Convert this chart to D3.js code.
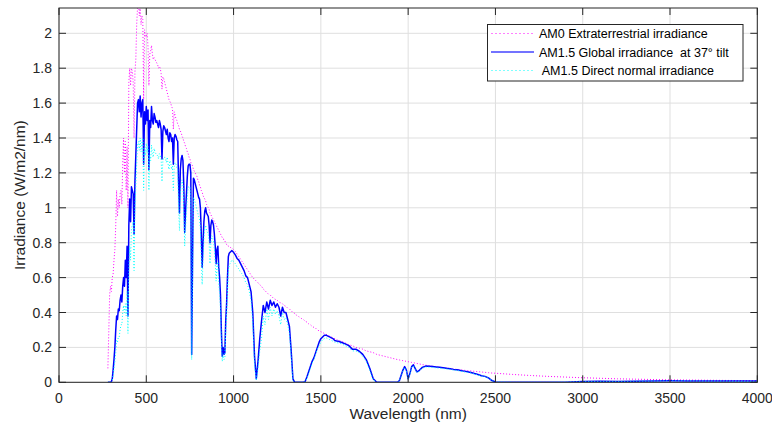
<!DOCTYPE html>
<html><head><meta charset="utf-8">
<script src="https://cdn.jsdelivr.net/npm/d3@7"></script>
<style>html,body{margin:0;padding:0;background:#fff;} svg{display:block;}</style>
</head><body><svg id="chart" width="772" height="430"></svg>
<script>
// ---- Wavelength grid (nm), in sections ----
const wlA = [280,285,290,295,300,305,310,315,320,325,
330,335,340,345,350,355,360,365,370,375,
380,385,390,395,400,405,410,415,420,425,
430,435,440,445,450,455,460,465,470,475,
480,485,490,495,500,505,510,515,520,525,
530,535,540,545,550,555,560,565,570,575,
580,585,590,595,600,605,610,615,620,625,
630,635,640,645,650,655,660,665,670,675,
680,685,690,695,700,705,710,715,720,725,
730,735,740,745,750,755,760,765,770,775,
780,785,790,795,800,805,810,815,820,825,
830,835,840,845,850,855,860,865,870,875,
880,885,890,895,900,905,910,915,920,925,
930,935,940,945,950,955,960,965,970,975,
980,985,990,995,1000];
const wlB = [1010,1020,1030,1040,1050,1060,1070,1080,1090,1100,
1110,1120,1130,1140,1150,1160,1170,1180,1190,1200,
1210,1220,1230,1240,1250,1260,1270,1280,1290,1300,
1310,1320,1330,1340,1350,1360,1370,1380,1390,1400,
1410,1420,1430,1440,1450,1460,1470,1480,1490,1500,
1510,1520,1530,1540,1550,1560,1570,1580,1590,1600];
const wlC = [1620,1640,1660,1680,1700,1720,1740,1760,1780,1800,1820,1840,1860,1880,1900,1920,1940];
const wlD = [1950,1960,1970,1980,1990,2000,2010,2020,2030,2040,2050,2060];
const wlE = [2080,2100,2120,2140,2160,2180,2200,2220,2240,2260,2280,2300,2320,2340,2360,2380,2400,2420,2440,2460,2480,2500];
const wlF = [2600,2700,2800,2900,3000,3100,3200,3300,3400,3500,3600,3700,3800,3900,4000];

// ---- AM0 extraterrestrial irradiance (W/m2/nm) ----
const am0A = [0.08,0.28,0.50,0.55,0.52,0.60,0.62,0.70,0.76,0.90,
1.10,0.95,1.05,1.00,1.08,1.10,1.02,1.25,1.40,1.20,
1.38,1.10,1.35,1.00,1.72,1.80,1.70,1.80,1.78,1.72,
1.40,1.78,1.85,2.05,2.15,2.20,2.10,2.15,2.05,2.10,
2.08,1.62,2.02,1.98,1.98,2.00,1.92,1.70,1.88,1.90,
1.93,1.88,1.85,1.86,1.85,1.84,1.83,1.82,1.80,1.81,
1.80,1.77,1.68,1.75,1.74,1.72,1.70,1.68,1.66,1.64,
1.62,1.61,1.60,1.58,1.57,1.45,1.55,1.53,1.51,1.50,
1.48,1.47,1.45,1.44,1.43,1.41,1.40,1.38,1.37,1.35,
1.34,1.32,1.31,1.29,1.28,1.26,1.25,1.24,1.22,1.21,
1.20,1.19,1.18,1.16,1.15,1.13,1.12,1.10,1.09,1.07,
1.06,1.05,1.04,1.02,1.01,1.00,0.99,0.97,0.96,0.95,
0.94,0.93,0.92,0.91,0.90,0.89,0.88,0.87,0.86,0.85,
0.84,0.83,0.82,0.82,0.81,0.80,0.79,0.79,0.78,0.78,
0.775,0.77,0.77,0.765,0.76];
const am0B = [0.75,0.735,0.72,0.705,0.69,0.675,0.66,0.645,0.63,0.615,
0.60,0.59,0.58,0.57,0.56,0.55,0.535,0.525,0.515,0.505,
0.50,0.49,0.48,0.475,0.47,0.46,0.455,0.45,0.44,0.435,
0.425,0.42,0.41,0.40,0.395,0.385,0.38,0.37,0.365,0.36,
0.35,0.345,0.335,0.33,0.32,0.315,0.31,0.30,0.295,0.29,
0.285,0.28,0.275,0.27,0.265,0.26,0.255,0.25,0.245,0.24];
const am0C = [0.235,0.225,0.215,0.21,0.20,0.195,0.19,0.18,0.175,0.17,0.16,0.155,0.15,0.145,0.14,0.135,0.13];
const am0D = [0.128,0.126,0.124,0.122,0.12,0.118,0.116,0.114,0.112,0.11,0.108,0.106];
const am0E = [0.102,0.098,0.095,0.092,0.089,0.086,0.083,0.081,0.078,0.076,0.074,0.072,0.069,0.067,0.065,0.063,0.061,0.059,0.057,0.055,0.053,0.052];
const am0F = [0.045,0.039,0.034,0.030,0.026,0.023,0.020,0.018,0.016,0.014,0.013,0.012,0.011,0.010,0.009];

// ---- AM1.5 global irradiance at 37° tilt ----
const globalA = [0,0,0,0,0.003,0.02,0.07,0.13,0.20,0.30,
0.38,0.36,0.42,0.41,0.47,0.50,0.46,0.55,0.60,0.55,
0.70,0.60,0.78,0.38,0.90,1.05,0.92,1.12,1.10,1.08,
0.85,1.15,1.30,1.45,1.60,1.62,1.55,1.64,1.52,1.60,
1.62,1.25,1.55,1.48,1.58,1.50,1.56,1.22,1.50,1.46,
1.58,1.50,1.48,1.54,1.52,1.49,1.50,1.48,1.46,1.50,
1.48,1.45,1.28,1.44,1.47,1.46,1.44,1.42,1.45,1.40,
1.38,1.43,1.42,1.38,1.40,1.25,1.40,1.42,1.41,1.39,
1.38,1.15,0.97,1.22,1.28,1.30,1.27,1.12,0.86,0.98,
1.08,1.18,1.24,1.25,1.25,1.20,0.16,0.70,1.17,1.16,
1.14,1.12,1.10,1.08,1.06,1.05,1.00,0.85,0.66,0.80,
0.92,0.98,1.00,0.97,0.96,0.95,0.90,0.80,0.90,0.93,
0.92,0.90,0.85,0.78,0.68,0.76,0.78,0.66,0.60,0.50,
0.30,0.15,0.20,0.16,0.17,0.35,0.45,0.60,0.72,0.74,
0.745,0.75,0.755,0.75,0.745];
const globalB = [0.73,0.71,0.70,0.68,0.66,0.64,0.61,0.60,0.56,0.52,
0.40,0.15,0.02,0.12,0.25,0.35,0.44,0.40,0.46,0.42,
0.47,0.44,0.46,0.43,0.45,0.43,0.38,0.43,0.40,0.40,
0.36,0.32,0.18,0.02,0,0,0,0,0,0,
0.005,0.03,0.06,0.09,0.12,0.14,0.17,0.20,0.23,0.25,
0.26,0.27,0.27,0.265,0.26,0.255,0.25,0.24,0.237,0.235];
const globalC = [0.228,0.22,0.21,0.19,0.19,0.178,0.16,0.13,0.08,0.02,0,0,0,0,0,0,0];
const globalD = [0.01,0.04,0.07,0.09,0.07,0.02,0.05,0.09,0.10,0.08,0.06,0.065];
const globalE = [0.085,0.093,0.092,0.09,0.088,0.086,0.084,0.08,0.078,0.074,0.072,0.068,0.064,0.06,0.056,0.05,0.045,0.038,0.034,0.025,0.01,0.002];
const globalF = [0,0,0,0.001,0.004,0.006,0.004,0.006,0.008,0.009,0.008,0.008,0.007,0.007,0.007];

// ---- AM1.5 direct normal irradiance ----
const directA = [0,0,0,0,0,0.01,0.04,0.08,0.12,0.17,
0.24,0.23,0.26,0.26,0.30,0.33,0.33,0.40,0.44,0.40,
0.45,0.38,0.52,0.28,0.65,0.78,0.70,0.88,0.90,0.92,
0.64,1.00,1.12,1.25,1.36,1.38,1.33,1.40,1.32,1.38,
1.40,1.10,1.34,1.30,1.37,1.32,1.35,1.10,1.30,1.27,
1.36,1.30,1.29,1.34,1.32,1.31,1.30,1.30,1.28,1.31,
1.30,1.28,1.15,1.27,1.29,1.29,1.28,1.26,1.29,1.25,
1.22,1.27,1.26,1.22,1.24,1.10,1.24,1.26,1.25,1.23,
1.22,1.00,0.87,1.08,1.14,1.16,1.13,0.98,0.78,0.88,
0.97,1.06,1.12,1.12,1.12,1.06,0.13,0.55,1.06,1.05,
1.03,1.01,0.99,0.97,0.95,0.94,0.88,0.72,0.56,0.70,
0.82,0.88,0.90,0.87,0.86,0.85,0.80,0.68,0.80,0.84,
0.83,0.81,0.76,0.68,0.58,0.67,0.69,0.57,0.51,0.42,
0.24,0.12,0.16,0.13,0.14,0.29,0.38,0.52,0.64,0.67,
0.68,0.69,0.70,0.70,0.69];
const directB = [0.68,0.66,0.65,0.63,0.62,0.60,0.57,0.56,0.52,0.47,
0.34,0.10,0.01,0.08,0.18,0.25,0.38,0.33,0.42,0.36,
0.43,0.38,0.42,0.39,0.41,0.38,0.33,0.40,0.36,0.37,
0.33,0.28,0.15,0.01,0,0,0,0,0,0,
0.003,0.02,0.05,0.08,0.11,0.13,0.16,0.19,0.21,0.23,
0.245,0.25,0.255,0.25,0.245,0.24,0.235,0.23,0.228,0.225];
const directC = [0.22,0.21,0.20,0.18,0.18,0.17,0.15,0.12,0.07,0.015,0,0,0,0,0,0,0];
const directD = [0.008,0.035,0.065,0.085,0.065,0.015,0.045,0.085,0.095,0.075,0.055,0.06];
const directE = [0.08,0.088,0.087,0.085,0.083,0.081,0.079,0.076,0.074,0.07,0.068,0.064,0.06,0.057,0.053,0.047,0.042,0.036,0.032,0.023,0.009,0.002];
const directF = [0,0,0,0.001,0.004,0.005,0.004,0.006,0.007,0.008,0.008,0.007,0.007,0.006,0.006];

// ---- Axis ticks & labels ----
const xTicks = [0,500,1000,1500,2000,2500,3000,3500,4000];
const yTicks = [0,0.2,0.4,0.6,0.8,1,1.2,1.4,1.6,1.8,2];
const xLabel = "Wavelength (nm)";
const yLabel = "Irradiance (W/m2/nm)";
const seriesNames = ["AM0 Extraterrestrial irradiance", "AM1.5 Global irradiance  at 37° tilt", " AM1.5 Direct normal irradiance"];

const wavelengths = [].concat(wlA, wlB, wlC, wlD, wlE, wlF);
const am0 = [].concat(am0A, am0B, am0C, am0D, am0E, am0F);
const glob = [].concat(globalA, globalB, globalC, globalD, globalE, globalF);
const direct = [].concat(directA, directB, directC, directD, directE, directF);

function zip(vals) {
  const n = Math.min(wavelengths.length, vals.length);
  return d3.range(n).map(i => [wavelengths[i], vals[i]]);
}

const svg = d3.select("#chart");
svg.append("rect").attr("width", 772).attr("height", 430).attr("fill", "#fff");

const L = 59, R = 757.3, T = 8, B = 382.3;
const x = d3.scaleLinear().domain([0, 4000]).range([L, R]);
const y = d3.scaleLinear().domain([0, 2.145]).range([B, T]);

const axColor = "#262626";
const font = "'Liberation Sans', Arial, Helvetica, sans-serif";

// grid
const grid = svg.append("g");
grid.selectAll("line.gx").data(xTicks).join("line")
  .attr("x1", d => x(d)).attr("x2", d => x(d)).attr("y1", T).attr("y2", B)
  .attr("stroke", "#dfdfdf").attr("stroke-width", 1);
grid.selectAll("line.gy").data(yTicks).join("line")
  .attr("y1", d => y(d)).attr("y2", d => y(d)).attr("x1", L).attr("x2", R)
  .attr("stroke", "#dfdfdf").attr("stroke-width", 1);

// clip
svg.append("clipPath").attr("id", "clip").append("rect")
  .attr("x", L).attr("y", T).attr("width", R - L).attr("height", B - T);

const line = d3.line().x(d => x(d[0])).y(d => y(d[1]));
const plot = svg.append("g").attr("clip-path", "url(#clip)");
plot.append("path").datum(zip(am0)).attr("d", line)
  .attr("fill", "none").attr("stroke", "#ff00ff").attr("stroke-width", 1)
  .attr("stroke-dasharray", "1,2");
plot.append("path").datum(zip(glob)).attr("d", line)
  .attr("fill", "none").attr("stroke", "#0000ff").attr("stroke-width", 1.5)
  .attr("stroke-linejoin", "round");
plot.append("path").datum(zip(direct)).attr("d", line)
  .attr("fill", "none").attr("stroke", "#00ffff").attr("stroke-width", 1)
  .attr("stroke-dasharray", "1,2");

// axes box
const ax = svg.append("g");
ax.append("rect").attr("x", L).attr("y", T).attr("width", R - L).attr("height", B - T)
  .attr("fill", "none").attr("stroke", axColor).attr("stroke-width", 1);
const tl = 7;
xTicks.forEach(t => {
  ax.append("line").attr("x1", x(t)).attr("x2", x(t)).attr("y1", B).attr("y2", B - tl).attr("stroke", axColor);
  ax.append("line").attr("x1", x(t)).attr("x2", x(t)).attr("y1", T).attr("y2", T + tl).attr("stroke", axColor);
});
yTicks.forEach(t => {
  ax.append("line").attr("y1", y(t)).attr("y2", y(t)).attr("x1", L).attr("x2", L + tl).attr("stroke", axColor);
  ax.append("line").attr("y1", y(t)).attr("y2", y(t)).attr("x1", R).attr("x2", R - tl).attr("stroke", axColor);
});

// tick labels
ax.selectAll("text.xt").data(xTicks).join("text")
  .attr("x", d => x(d)).attr("y", 403).attr("text-anchor", "middle")
  .attr("font-family", font).attr("font-size", 14).attr("fill", axColor)
  .text(d => d);
ax.selectAll("text.yt").data(yTicks).join("text")
  .attr("x", 52).attr("y", d => y(d)).attr("dy", "0.36em").attr("text-anchor", "end")
  .attr("font-family", font).attr("font-size", 14).attr("fill", axColor)
  .text(d => d);

// axis labels
svg.append("text").attr("x", (L + R) / 2).attr("y", 419).attr("text-anchor", "middle")
  .attr("font-family", font).attr("font-size", 15.5).attr("fill", axColor).text(xLabel);
svg.append("text").attr("transform", `translate(25,${(T + B) / 2}) rotate(-90)`)
  .attr("text-anchor", "middle")
  .attr("font-family", font).attr("font-size", 15.5).attr("fill", axColor).text(yLabel);

// legend
const lg = svg.append("g");
lg.append("rect").attr("x", 487.5).attr("y", 24.5).attr("width", 255.5).attr("height", 56.5)
  .attr("fill", "#fff").attr("stroke", axColor).attr("stroke-width", 1);
const legendStyles = [
  {color: "#ff00ff", dash: "2,2", width: 1, op: 0.5},
  {color: "#0000ff", dash: null, width: 2, op: 0.55},
  {color: "#00ffff", dash: "2,2", width: 1, op: 0.5}
];
const legendY = [33.5, 52, 70.5];
seriesNames.forEach((name, i) => {
  const s = legendStyles[i];
  const l = lg.append("line").attr("x1", 491).attr("x2", 534).attr("y1", legendY[i]).attr("y2", legendY[i])
    .attr("stroke", s.color).attr("stroke-width", s.width).attr("stroke-opacity", s.op);
  if (s.dash) l.attr("stroke-dasharray", s.dash);
  lg.append("text").attr("x", 539).attr("y", legendY[i]).attr("dy", "0.36em")
    .attr("font-family", font).attr("font-size", 12.5).attr("fill", "#000")
    .style("white-space", "pre").attr("xml:space", "preserve").text(name);
});
</script>
</body></html>
